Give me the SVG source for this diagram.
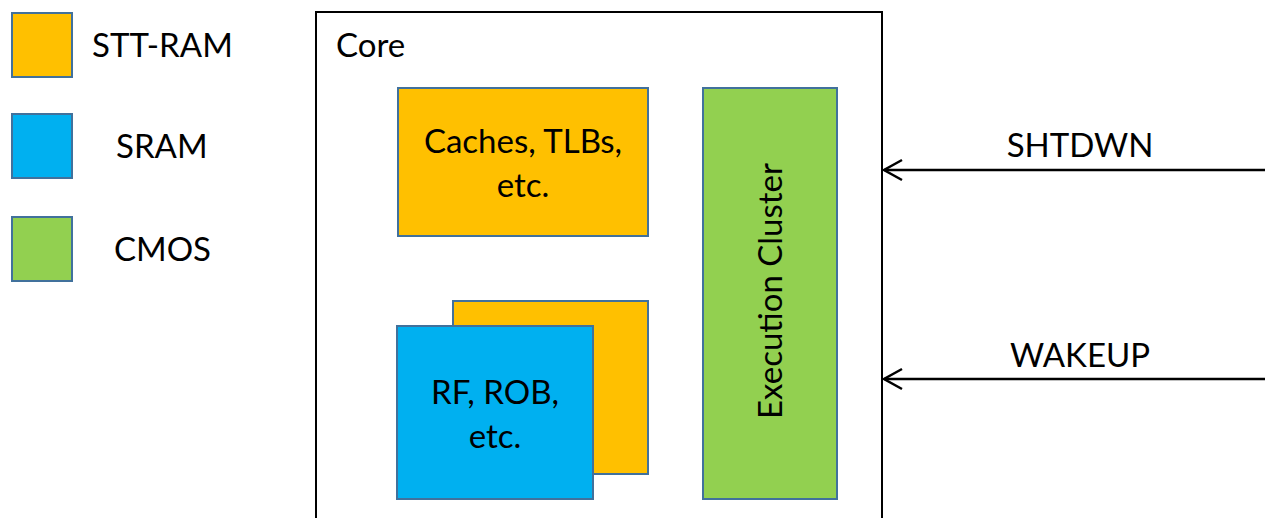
<svg xmlns="http://www.w3.org/2000/svg" width="1265" height="518" viewBox="0 0 1265 518">
<defs>
<style>
text{font-family:Lato,"Open Sans",sans-serif;font-size:33px;fill:#000}
.blk{stroke:#41719C;stroke-width:2}
.stt{fill:#FFC000}
.sram{fill:#00B0F0}
.cmos{fill:#92D050}
.c{text-anchor:middle}
.conn{stroke:#000;stroke-width:2.5;fill:none}
</style>
<marker id="arr" markerWidth="24" markerHeight="24" refX="20" refY="12" orient="auto" markerUnits="userSpaceOnUse">
<path d="M2,2 L20,12 L2,22" fill="none" stroke="#000" stroke-width="2.5"/>
</marker>
</defs>
<rect width="1265" height="518" fill="#fff"/>
<g id="legend">
<g id="legend-stt"><rect class="blk stt" x="12" y="13" width="60" height="64"/><text x="92" y="57">STT-RAM</text></g>
<g id="legend-sram"><rect class="blk sram" x="12" y="114" width="60" height="64"/><text x="116" y="158">SRAM</text></g>
<g id="legend-cmos"><rect class="blk cmos" x="12" y="217" width="60" height="64"/><text x="114" y="261">CMOS</text></g>
</g>
<g id="core">
<rect x="316" y="12" width="566" height="520" fill="#fff" stroke="#000" stroke-width="2"/>
<text x="336" y="57">Core</text>
</g>
<g id="caches">
<rect class="blk stt" x="398" y="88" width="250" height="148"/>
<text class="c" x="523" y="153">Caches, TLBs,</text>
<text class="c" x="523" y="197">etc.</text>
</g>
<g id="stt-back">
<rect class="blk stt" x="453" y="301" width="195" height="173"/>
</g>
<g id="rf">
<rect class="blk sram" x="397" y="326" width="196" height="173"/>
<text class="c" x="495" y="404">RF, ROB,</text>
<text class="c" x="495" y="448">etc.</text>
</g>
<g id="exec">
<rect class="blk cmos" x="703" y="88" width="134" height="411"/>
<text class="c" transform="translate(782,291) rotate(-90)">Execution Cluster</text>
</g>
<g id="connectors">
<line class="conn" x1="1265" y1="170" x2="884" y2="170" marker-end="url(#arr)"/>
<line class="conn" x1="1265" y1="379" x2="884" y2="379" marker-end="url(#arr)"/>
</g>
<g id="labels">
<text class="c" x="1080" y="157">SHTDWN</text>
<text class="c" x="1080" y="367">WAKEUP</text>
</g>
</svg>
